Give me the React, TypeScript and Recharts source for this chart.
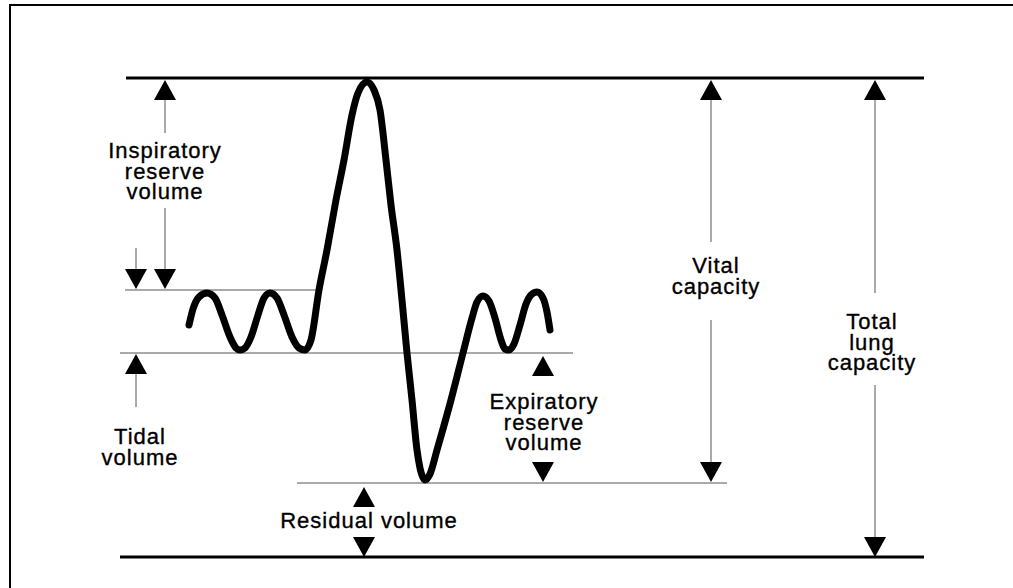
import React from "react";
import { ComposedChart, Line, Scatter, XAxis, YAxis, ReferenceLine } from "recharts";

// Spirogram trace: time (arbitrary units) and lung volume (arbitrary units above zero)
const waveTime = [
  189, 193, 199, 207, 215, 222, 230, 236, 240, 245, 251, 258, 264, 270, 277, 284, 292, 299, 305,
  311, 319, 327, 336, 344, 352, 358, 367, 374, 380, 386, 391, 397, 402, 407, 412, 417, 420, 425,
  430, 437, 451, 463, 472, 477, 483, 489, 495, 501, 505, 509, 514, 520, 526, 531, 537, 543, 547,
  550,
];
const waveVolume = [
  232, 248, 260, 264, 259, 242, 220, 209, 207, 209, 220, 242, 259, 264, 259, 242, 220, 209, 207,
  217, 267, 307, 357, 397, 442, 464, 475, 467, 447, 397, 352, 307, 257, 204, 157, 107, 89, 77,
  83, 107, 157, 204, 239, 255, 261, 256, 239, 217, 208, 207, 213, 232, 253, 262, 265, 259, 245,
  227,
];

// Volume levels drawn as horizontal lines
const levelNames = ["Total lung capacity", "End inspiration", "End expiration", "Residual volume", "Zero"];
const levelVolumes = [479, 267, 204, 74, 0];
const levelFrom = [126, 125, 120, 297, 120];
const levelTo = [924, 320, 573, 727, 924];
const levelHeavy = [true, false, false, false, true];

// Arrow heads: time, volume at tip, direction
const headTime = [165, 165, 136, 136, 543, 543, 364, 364, 711, 711, 875, 875];
const headVolume = [477, 268, 268, 203, 201, 75, 70, 0, 477, 75, 477, 0];
const headDir = ["up", "down", "down", "up", "up", "down", "up", "down", "up", "down", "up", "down"];

// Arrow shafts: time, from volume, to volume
const shaftTime = [165, 165, 136, 136, 711, 711, 875, 875];
const shaftFrom = [457, 349, 309, 183, 457, 237, 457, 172];
const shaftTo = [424, 287, 287, 150, 315, 94, 264, 19];

// Labels: time (centre), volume of the first baseline, text lines
const labelTime = [165, 140, 716, 872, 544, 369];
const labelVolume = [399, 113, 284, 228, 148, 29];
const labelLines = [
  ["Inspiratory", "reserve", "volume"],
  ["Tidal", "volume"],
  ["Vital", "capacity"],
  ["Total", "lung", "capacity"],
  ["Expiratory", "reserve", "volume"],
  ["Residual volume"],
];

const waveData = waveTime.map((t, i) => ({ t, v: waveVolume[i] }));
const headData = headTime.map((t, i) => ({ t, v: headVolume[i], dir: headDir[i] }));
const labelData = labelTime.map((t, i) => ({ t, v: labelVolume[i], lines: labelLines[i] }));

const FONT = "'Liberation Sans', Arial, Helvetica, sans-serif";

const ArrowHead = (props: any) => {
  const { cx, cy, payload } = props;
  if (cx == null || cy == null) return null;
  const w = 11;
  const h = 20;
  const pts =
    payload.dir === "up"
      ? `${cx},${cy} ${cx - w},${cy + h} ${cx + w},${cy + h}`
      : `${cx},${cy} ${cx - w},${cy - h} ${cx + w},${cy - h}`;
  return <polygon points={pts} fill="#000" />;
};

const Label = (props: any) => {
  const { cx, cy, payload } = props;
  if (cx == null || cy == null) return null;
  return (
    <text
      x={cx}
      y={cy}
      textAnchor="middle"
      fontFamily={FONT}
      fontSize={22}
      letterSpacing={1}
      fill="#000"
      stroke="#000"
      strokeWidth={0.35}
    >
      {payload.lines.map((line: string, i: number) => (
        <tspan key={i} x={cx} dy={i === 0 ? 0 : 20.5}>
          {line}
        </tspan>
      ))}
    </text>
  );
};

export default function App() {
  return (
    <div style={{ position: "absolute", left: 0, top: 0, width: 1013, height: 588, background: "#fff", overflow: "hidden" }}>
      <style>{"html,body{margin:0;padding:0;overflow:hidden;background:#fff}"}</style>
      {/* outer frame: only the top and left edges fall inside the picture */}
      <div
        style={{
          position: "absolute",
          left: 9,
          top: 4,
          width: 1010,
          height: 590,
          boxShadow: "inset 2px 2px 0 0 #000",
          pointerEvents: "none",
        }}
      />
      <div style={{ position: "absolute", left: 0, top: 0 }}>
        <ComposedChart width={1013} height={588} margin={{ top: 0, right: 0, bottom: 0, left: 0 }}>
          <XAxis type="number" dataKey="t" domain={[0, 1013]} hide allowDataOverflow />
          <YAxis type="number" dataKey="v" domain={[-31, 557]} hide allowDataOverflow />

          {levelNames.map((name, i) => (
            <ReferenceLine
              key={name}
              segment={[
                { x: levelFrom[i], y: levelVolumes[i] },
                { x: levelTo[i], y: levelVolumes[i] },
              ]}
              stroke={levelHeavy[i] ? "#000" : "#555"}
              strokeWidth={levelHeavy[i] ? 3 : 1}
              ifOverflow="visible"
            />
          ))}

          {shaftTime.map((t, i) => (
            <ReferenceLine
              key={`s${i}`}
              segment={[
                { x: t, y: shaftFrom[i] },
                { x: t, y: shaftTo[i] },
              ]}
              stroke="#555"
              strokeWidth={1}
              ifOverflow="visible"
            />
          ))}

          <Line
            data={waveData}
            dataKey="v"
            type="monotone"
            stroke="#000"
            strokeWidth={7}
            strokeLinecap="round"
            strokeLinejoin="round"
            dot={false}
            activeDot={false}
            isAnimationActive={false}
          />

          <Scatter data={headData} dataKey="v" shape={ArrowHead} isAnimationActive={false} />
          <Scatter data={labelData} dataKey="v" shape={Label} isAnimationActive={false} />
        </ComposedChart>
      </div>
    </div>
  );
}
